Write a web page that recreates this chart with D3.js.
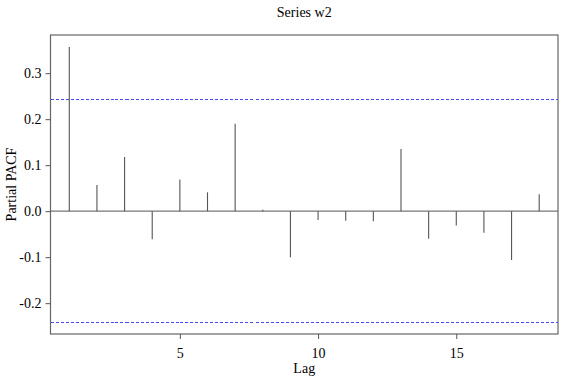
<!DOCTYPE html>
<html>
<head>
<meta charset="utf-8">
<script src="https://cdn.jsdelivr.net/npm/d3@7"></script>
<style>
  body { margin: 0; background: #fff; }
  svg text { font-family: 'Liberation Serif', 'Times New Roman', Times, serif !important; fill: #000; }
</style>
</head>
<body>
<div id="chart"></div>
<script>
// lag values and partial autocorrelations
const lags = [1, 2, 3, 4, 5, 6, 7, 8, 9, 10, 11, 12, 13, 14, 15, 16, 17, 18];
const pacf = [0.357, 0.057, 0.118, -0.061, 0.069, 0.041, 0.190, 0.003, -0.100, -0.019,
              -0.021, -0.022, 0.135, -0.060, -0.031, -0.047, -0.106, 0.037];
const clim = 0.243;
const xTicks = [5, 10, 15];
const yTicks = [-0.2, -0.1, 0.0, 0.1, 0.2, 0.3];

const W = 567, H = 377;
const margin = {top: 35, right: 9, bottom: 43, left: 50.5};
const width = W - margin.left - margin.right,
  height = H - margin.top - margin.bottom;

const x = d3.scaleLinear().domain([0.32, 18.68]).range([0, width]);
const y = d3.scaleLinear().domain([-0.267, 0.383]).range([height, 0]);

const svg = d3.select("#chart").append("svg")
  .attr("width", W).attr("height", H);

const plot = svg.append("g")
  .attr("transform", "translate(" + margin.left + "," + margin.top + ")");

// zero line
plot.append("line")
  .attr("x1", 0).attr("x2", width)
  .attr("y1", y(0)).attr("y2", y(0))
  .attr("stroke", "#777").attr("stroke-width", 1.3);

// confidence lines
plot.selectAll(".clim")
  .data([clim, -clim])
  .enter().append("line")
  .attr("class", "clim")
  .attr("x1", 0).attr("x2", width)
  .attr("y1", d => y(d)).attr("y2", d => y(d))
  .attr("stroke", "#4a4af5").attr("stroke-width", 1)
  .attr("shape-rendering", "crispEdges")
  .attr("stroke-dasharray", "3,2");

// spikes
plot.selectAll(".spike")
  .data(lags.map((l, i) => ({lag: l, v: pacf[i]})))
  .enter().append("line")
  .attr("class", "spike")
  .attr("x1", d => x(d.lag)).attr("x2", d => x(d.lag))
  .attr("y1", y(0)).attr("y2", d => y(d.v))
  .attr("stroke", "#555").attr("stroke-width", 1.1);

// box
plot.append("rect")
  .attr("x", 0).attr("y", 0)
  .attr("width", width).attr("height", height)
  .attr("fill", "none").attr("stroke", "#666").attr("stroke-width", 1.2);

const fmtY = d => d3.format(".1f")(d).replace("\u2212", "-");

const xAxis = d3.axisBottom(x).tickValues(xTicks).tickSize(5).tickPadding(9)
  .tickFormat(d3.format("d"));
const yAxis = d3.axisLeft(y).tickValues(yTicks).tickSize(5).tickPadding(4)
  .tickFormat(fmtY);

const gx = plot.append("g")
  .attr("transform", "translate(0," + height + ")")
  .call(xAxis);
const gy = plot.append("g").call(yAxis);

[gx, gy].forEach(g => {
  g.attr("font-family", null).attr("font-size", null);
  g.select(".domain").remove();
  g.selectAll("line").attr("stroke", "#555");
  g.selectAll("text").style("font-size", "14px");
});

svg.append("text")
  .attr("x", margin.left + width / 2).attr("y", 17)
  .attr("text-anchor", "middle")
  .style("font-size", "14px")
  .text("Series w2");

svg.append("text")
  .attr("x", margin.left + width / 2).attr("y", 373)
  .attr("text-anchor", "middle")
  .style("font-size", "14px")
  .text("Lag");

svg.append("text")
  .attr("transform", "translate(16," + (margin.top + height / 2) + ") rotate(-90)")
  .attr("text-anchor", "middle")
  .style("font-size", "14px")
  .text("Partial PACF");
</script>
</body>
</html>
